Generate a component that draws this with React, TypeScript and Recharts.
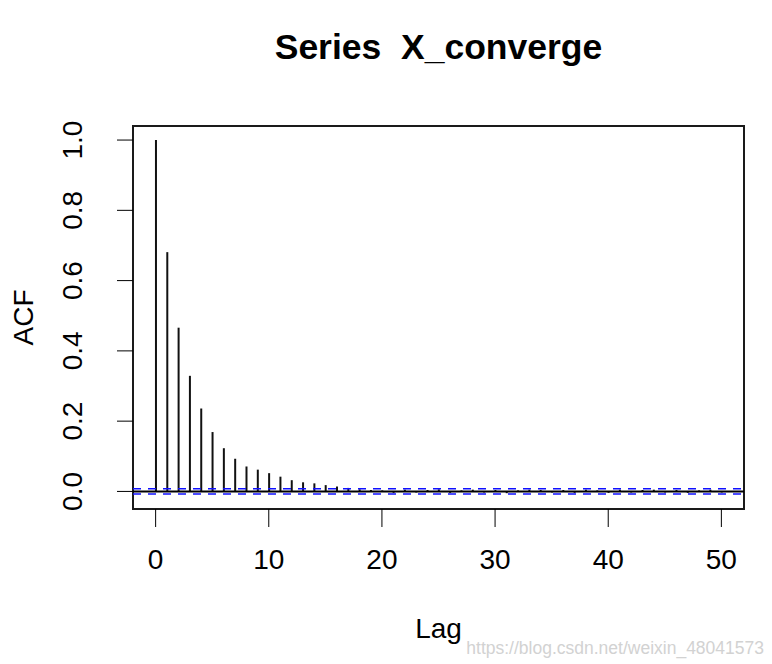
import { ComposedChart, Bar, XAxis, YAxis, ReferenceLine, ReferenceArea, Label } from 'recharts';

const lags = [
  0, 1, 2, 3, 4, 5, 6, 7, 8, 9, 10, 11, 12, 13, 14, 15, 16, 17, 18, 19, 20, 21, 22, 23, 24, 25,
  26, 27, 28, 29, 30, 31, 32, 33, 34, 35, 36, 37, 38, 39, 40, 41, 42, 43, 44, 45, 46, 47, 48, 49, 50,
];
const acfValues = [
  1.0, 0.681, 0.466, 0.329, 0.236, 0.169, 0.123, 0.093, 0.071, 0.062, 0.052, 0.042, 0.032, 0.026,
  0.023, 0.018, 0.014, 0.01, 0.006, 0.004, 0.003, -0.004, 0.005, -0.003, 0.004, 0.006, -0.004,
  0.003, 0.005, -0.003, 0.004, -0.005, 0.003, 0.005, 0.004, -0.003, 0.004, -0.004, 0.005, 0.003,
  -0.004, 0.005, -0.003, 0.004, 0.005, -0.003, 0.004, -0.004, 0.003, 0.005, -0.003,
];
const xTicks = [0, 10, 20, 30, 40, 50];
const yTicks = [0, 0.2, 0.4, 0.6, 0.8, 1.0];
const ciBound = 0.0075;

const font = '"Liberation Sans", Arial, sans-serif';

const data = lags.map((lag, i) => ({ lag, acf: acfValues[i] }));

function YTick(props: any) {
  const { x, y, payload } = props;
  return (
    <text
      x={x}
      y={y}
      transform={`rotate(-90, ${x}, ${y})`}
      textAnchor="middle"
      fontSize={28}
      fontFamily={font}
      fill="#000"
    >
      {payload.value.toFixed(1)}
    </text>
  );
}

export default function App() {
  return (
    <div style={{ position: 'absolute', left: 0, top: 0, width: 772, height: 664, background: '#fff' }}>
      <div
        style={{
          position: 'absolute',
          left: 133,
          width: 611,
          top: 30,
          textAlign: 'center',
          fontFamily: font,
          fontWeight: 'bold',
          fontSize: 35.5,
          lineHeight: '35px',
          color: '#000',
        }}
      >
        Series&nbsp;&nbsp;X_converge
      </div>
      <ComposedChart
        width={772}
        height={664}
        data={data}
        margin={{ top: 126, right: 28, left: 0, bottom: 0 }}
      >
        <XAxis
          dataKey="lag"
          type="number"
          domain={[-2, 52]}
          ticks={xTicks}
          axisLine={false}
          stroke="#000"
          tickSize={18}
          tickMargin={22}
          height={155}
          tick={{ fontSize: 28, fontFamily: font, fill: '#000' }}
        >
          <Label
            content={(p: any) => {
              const vb = p.viewBox;
              return (
                <text
                  x={vb.x + vb.width / 2}
                  y={vb.y + 129}
                  textAnchor="middle"
                  fontSize={28}
                  fontFamily={font}
                  fill="#000"
                >
                  Lag
                </text>
              );
            }}
          />
        </XAxis>
        <YAxis
          type="number"
          domain={[-0.05, 1.04]}
          ticks={yTicks}
          axisLine={false}
          stroke="#000"
          tickSize={16}
          tickMargin={35}
          width={133}
          tick={<YTick />}
        >
          <Label
            content={(p: any) => {
              const vb = p.viewBox;
              const cx = vb.x + 33;
              const cy = vb.y + vb.height / 2;
              return (
                <text
                  x={cx}
                  y={cy}
                  transform={`rotate(-90, ${cx}, ${cy})`}
                  textAnchor="middle"
                  fontSize={28}
                  fontFamily={font}
                  fill="#000"
                >
                  ACF
                </text>
              );
            }}
          />
        </YAxis>
        <ReferenceArea x1={-2} x2={52} y1={-0.05} y2={1.04} fill="none" stroke="#1a1a1a" strokeWidth={2} />
        <ReferenceLine y={0} stroke="#000" strokeWidth={2} />
        <ReferenceLine y={ciBound} stroke="#1010ff" strokeWidth={1.6} strokeDasharray="8 7" />
        <ReferenceLine y={-ciBound} stroke="#1010ff" strokeWidth={1.6} strokeDasharray="8 7" />
        <Bar dataKey="acf" barSize={2} fill="#111" isAnimationActive={false} />
      </ComposedChart>
      <div
        style={{
          position: 'absolute',
          right: 8,
          top: 640,
          fontFamily: font,
          fontSize: 17.5,
          lineHeight: '17px',
          color: '#d2d2d2',
        }}
      >
        https://blog.csdn.net/weixin_48041573
      </div>
    </div>
  );
}
